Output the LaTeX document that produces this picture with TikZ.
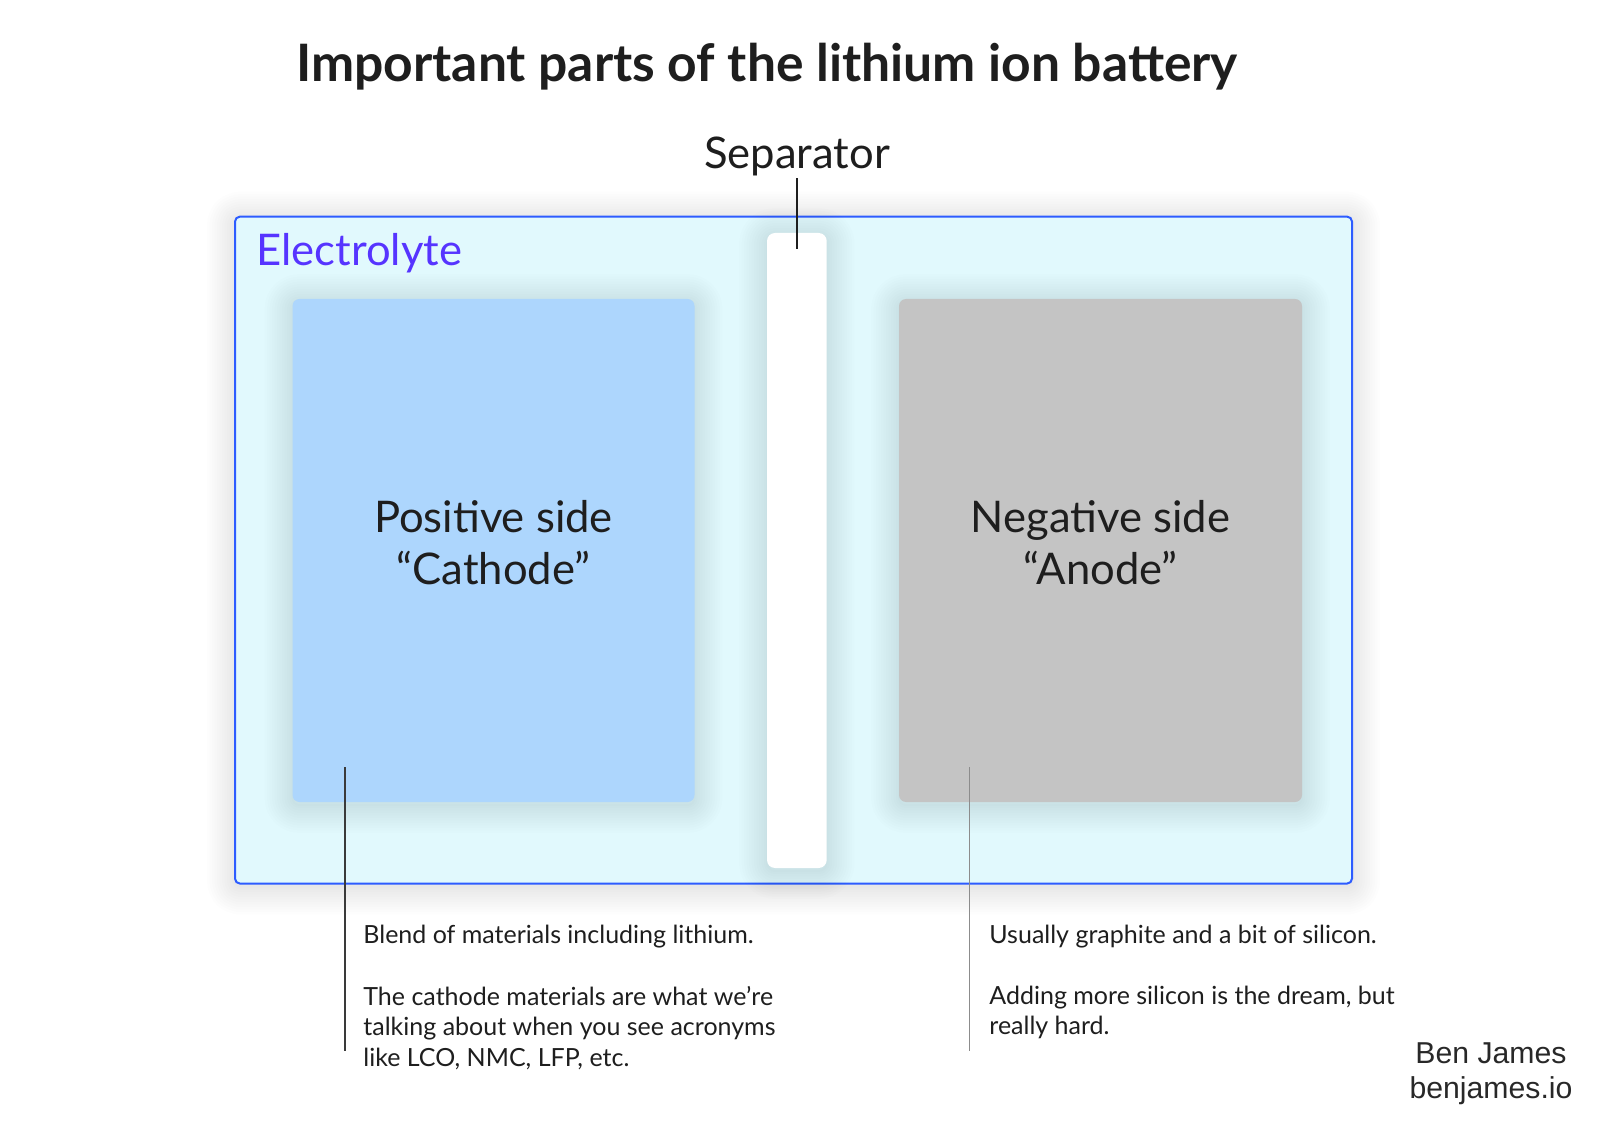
\documentclass[tikz,border=0pt]{standalone}
\usepackage{fontspec}
\setmainfont{Lato}
\newfontfamily\signfont{Liberation Sans}
\usetikzlibrary{calc,positioning}
\definecolor{electrofill}{HTML}{E1F9FD}
\definecolor{electroline}{HTML}{2D5CFF}
\definecolor{electrotext}{HTML}{5634FF}
\definecolor{cathodefill}{HTML}{ADD6FD}
\definecolor{anodefill}{HTML}{C4C4C4}
\definecolor{inktext}{HTML}{1E1E1E}
\tikzset{
  ring/.style 2 args={preaction={draw=black,draw opacity=#2,line width=#1,
    line join=round,transform canvas={yshift=-1.5pt}}},
  glow/.style={ring={28pt}{#1},ring={25.5pt}{#1},ring={23pt}{#1},ring={20.5pt}{#1},
    ring={18pt}{#1},ring={15.5pt}{#1},ring={13pt}{#1},ring={10.5pt}{#1},
    ring={8pt}{#1},ring={5.5pt}{#1},ring={3pt}{#1},ring={1pt}{#1}},
  electrode/.style={rectangle,rounded corners=3.5pt,minimum width=201pt,
    minimum height=251.5pt,glow=0.0065},
  sidetext/.style={inner sep=0pt,align=center,text=inktext,
    font=\fontsize{21.8}{26}\selectfont},
  notetext/.style={anchor=north west,inner sep=0pt,align=left,text=inktext,
    font=\fontsize{12.5}{15.3}\selectfont},
  pointer/.style={line width=0.7pt}
}
\begin{document}
\begin{tikzpicture}[x=0.5pt,y=-0.5pt]
\useasboundingbox (0,0) rectangle (1600,1122);
\node[anchor=base,inner sep=0pt,text=inktext,font=\fontsize{25.8}{30}\selectfont\bfseries]
  (title) at (767,82) {Important parts of the lithium ion battery};
% electrolyte box with the two sides
\node[rectangle,draw=electroline,line width=1pt,fill=electrofill,rounded corners=2.5pt,
  minimum width=558.5pt,minimum height=333.5pt,glow=0.007]
  (electrolyte) at (793.5,550.1) {};
\node[anchor=base west,inner sep=0pt,text=electrotext,font=\fontsize{21.8}{26}\selectfont]
  (electrolab) at (256,265.7) {Electrolyte};
\node[electrode,fill=cathodefill] (cathode) at (493.5,550.5) {};
\node[electrode,fill=anodefill,minimum width=201.5pt] (anode) at (1100.5,550.5) {};
\node[rectangle,fill=white,rounded corners=4pt,minimum width=29.85pt,minimum height=317.5pt,
  glow=0.0065] (separator) at (796.85,550.5) {};
\node[sidetext] (cathodetext) at ($(cathode.center)+(0,-7.5)$) {Positive side\\“Cathode”};
\node[sidetext] (anodetext) at ($(anode.center)+(0,-7.5)$) {Negative side\\“Anode”};
% separator label
\node[anchor=base,inner sep=0pt,text=inktext,font=\fontsize{21.8}{26}\selectfont]
  (seplab) at (797,168.5) {Separator};
\coordinate (septip) at (797,249);
\draw[pointer,inktext] ([yshift=-1pt]seplab.south) -- (septip);
% notes below
\coordinate (cathtip) at (345,767);
\coordinate (cathend) at (345,1051);
\draw[pointer,color={rgb,255:red,58;green,58;blue,58}] (cathtip) -- (cathend);
\coordinate (anodetip) at (969.5,767);
\coordinate (anodeend) at (969.5,1051);
\draw[pointer,color={rgb,255:red,140;green,140;blue,140}] (anodetip) -- (anodeend);
\node[notetext] (cathnote) at (363,924.5) {Blend of materials including lithium.};
\node[notetext] (cathmore) at (363,985.5) {The cathode materials are what we’re\\talking about when you see acronyms\\like LCO, NMC, LFP, etc.};
\node[notetext] (anodenote) at (989,924.5) {Usually graphite and a bit of silicon.};
\node[notetext] (anodemore) at (989,985.5) {Adding more silicon is the dream, but\\really hard.};
% signature
\node[anchor=north,inner sep=0pt,align=center,text={rgb,255:red,40;green,40;blue,40},
  font=\signfont\fontsize{15.1}{17.5}\selectfont] (sign) at (1491,1042.5) {Ben James\\benjames.io};
\end{tikzpicture}
\end{document}
